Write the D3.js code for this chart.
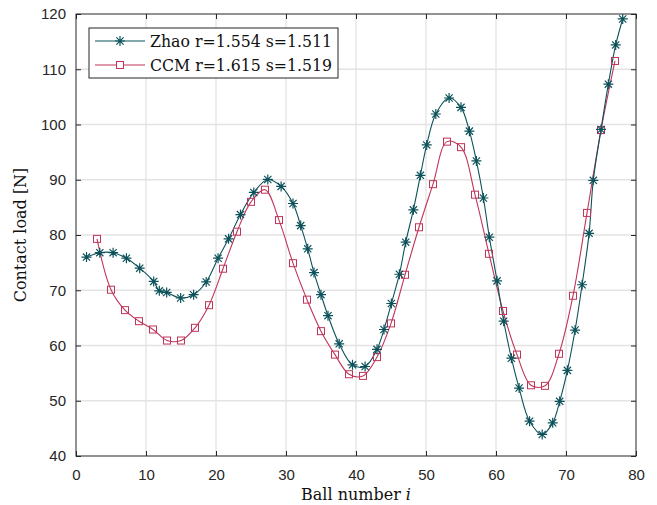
<!DOCTYPE html>
<html>
<head>
<meta charset="utf-8">
<script src="https://d3js.org/d3.v7.min.js"></script>
<style>
  body { margin: 0; background: #fff; }
  .tick text { font-family: "Liberation Sans", Arial, sans-serif; font-size: 15px; fill: #262626; }
</style>
</head>
<body>
<div id="chart"></div>
<script>
// Zhao model (stars)
let zhaoBall = [1.5, 3.4, 5.3, 7.2, 9.1, 11.1, 11.9, 12.95, 14.95, 16.8, 18.6, 20.3, 21.8, 23.5, 25.4, 27.4,
  29.3, 31.0, 32.1, 33.1, 34.0, 35.0, 36.0, 37.6, 39.5, 41.3, 43.0, 44.0, 45.05, 46.2, 47.1, 48.2, 49.2,
  50.1, 51.4, 53.3, 55.0, 56.2, 57.2, 58.2, 59.05, 60.15, 61.1, 62.2, 63.3, 64.8, 66.6, 68.1, 69.1, 70.2,
  71.3, 72.3, 73.3, 73.9, 75.0, 76.05, 77.1, 78.1];
let zhaoLoad = [76.0, 76.8, 76.8, 75.8, 74.0, 71.6, 69.9, 69.6, 68.6, 69.2, 71.5, 75.8, 79.3, 83.7, 87.7, 90.05,
  88.8, 85.7, 81.7, 77.5, 73.2, 69.2, 65.4, 60.3, 56.5, 56.2, 59.3, 62.9, 67.6, 72.9, 78.7, 84.55, 90.8,
  96.3, 101.9, 104.8, 103.1, 98.8, 93.4, 86.7, 79.6, 71.7, 64.4, 57.7, 52.3, 46.3, 43.9, 46.0, 49.9, 55.5,
  62.8, 71.0, 80.3, 89.9, 99.1, 107.3, 114.4, 119.1];

// CCM model (squares)
let ccmBall = [3, 5, 7, 9, 11, 13, 15, 17, 19, 21, 23, 25, 27, 29, 31, 33, 35, 37, 39, 41, 43, 45, 47,
  49, 51, 53, 55, 57, 59, 61, 63, 65, 67, 69, 71, 73, 75, 77];
let ccmLoad = [79.3, 70.1, 66.4, 64.4, 62.9, 60.9, 60.9, 63.2, 67.3, 73.9, 80.6, 86.0, 88.2, 82.7, 74.9, 68.3,
  62.6, 58.35, 54.8, 54.5, 57.9, 64.0, 72.8, 81.4, 89.2, 96.9, 95.9, 87.3, 76.6, 66.25, 58.35, 52.8, 52.7,
  58.5, 69.0, 84.0, 99.0, 111.5];

let xTicks = [0, 10, 20, 30, 40, 50, 60, 70, 80];
let yTicks = [40, 50, 60, 70, 80, 90, 100, 110, 120];
let legendLabels = ["Zhao r=1.554 s=1.511", "CCM r=1.615 s=1.519"];

let W = 657, H = 505;
let margin = { top: 14, right: 21, bottom: 49, left: 76 },
  width = W - margin.left - margin.right,
  height = H - margin.top - margin.bottom;

let zhaoColor = "#0d525b", ccmColor = "#c0355a";
let serif = "'DejaVu Serif', 'Liberation Serif', serif";

let svg = d3.select("#chart").append("svg")
  .attr("width", W).attr("height", H);
let g = svg.append("g").attr("transform", "translate(" + margin.left + "," + margin.top + ")");

let x = d3.scaleLinear().domain([0, 80]).range([0, width]);
let y = d3.scaleLinear().domain([40, 120]).range([height, 0]);

// grid
g.append("g").selectAll("line").data(xTicks.slice(1, -1)).enter().append("line")
  .attr("x1", d => x(d)).attr("x2", d => x(d)).attr("y1", 0).attr("y2", height)
  .attr("stroke", "#e3e3e3").attr("stroke-width", 1.3);
g.append("g").selectAll("line").data(yTicks.slice(1, -1)).enter().append("line")
  .attr("y1", d => y(d)).attr("y2", d => y(d)).attr("x1", 0).attr("x2", width)
  .attr("stroke", "#e3e3e3").attr("stroke-width", 1.3);

// axes (ticks pointing inward)
function styleAxis(sel) {
  sel.select(".domain").remove();
  sel.selectAll(".tick line").attr("stroke", "#262626").attr("stroke-width", 1);
}
g.append("g").attr("transform", "translate(0," + height + ")")
  .call(d3.axisBottom(x).tickValues(xTicks).tickSizeInner(-5).tickSizeOuter(0).tickPadding(13))
  .call(styleAxis);
g.append("g")
  .call(d3.axisTop(x).tickValues(xTicks).tickSizeInner(-5).tickSizeOuter(0).tickFormat(""))
  .call(styleAxis);
g.append("g")
  .call(d3.axisLeft(y).tickValues(yTicks).tickSizeInner(-5).tickSizeOuter(0).tickPadding(10))
  .call(styleAxis);
g.append("g").attr("transform", "translate(" + width + ",0)")
  .call(d3.axisRight(y).tickValues(yTicks).tickSizeInner(-5).tickSizeOuter(0).tickFormat(""))
  .call(styleAxis);

g.append("rect").attr("width", width).attr("height", height)
  .attr("fill", "none").attr("stroke", "#262626").attr("stroke-width", 1);

// series
let zhao = zhaoBall.map((b, i) => [b, zhaoLoad[i]]);
let ccm = ccmBall.map((b, i) => [b, ccmLoad[i]]);
let line = d3.line().x(d => x(d[0])).y(d => y(d[1])).curve(d3.curveCatmullRom.alpha(0.5));

g.append("path").datum(ccm).attr("d", line)
  .attr("fill", "none").attr("stroke", ccmColor).attr("stroke-width", 1.1);
g.append("path").datum(zhao).attr("d", line)
  .attr("fill", "none").attr("stroke", zhaoColor).attr("stroke-width", 1.1);

let starPath = "M-5,0H5M0,-5V5M-3.6,-3.6L3.6,3.6M-3.6,3.6L3.6,-3.6";

g.append("g").selectAll("rect").data(ccm).enter().append("rect")
  .attr("x", d => x(d[0]) - 3.5).attr("y", d => y(d[1]) - 3.5)
  .attr("width", 7).attr("height", 7)
  .attr("fill", "none").attr("stroke", ccmColor).attr("stroke-width", 1);

g.append("g").selectAll("path").data(zhao).enter().append("path")
  .attr("transform", d => "translate(" + x(d[0]) + "," + y(d[1]) + ")")
  .attr("d", starPath).attr("fill", "none").attr("stroke", zhaoColor).attr("stroke-width", 1.2);

// legend
let lg = svg.append("g").attr("transform", "translate(89,28)");
lg.append("rect").attr("width", 249).attr("height", 50)
  .attr("fill", "#fff").attr("stroke", "#262626").attr("stroke-width", 1);
[[zhaoColor, "star"], [ccmColor, "square"]].forEach((s, i) => {
  let cy = 13 + i * 24;
  lg.append("line").attr("x1", 6).attr("x2", 56).attr("y1", cy).attr("y2", cy)
    .attr("stroke", s[0]).attr("stroke-width", 1.1);
  if (s[1] === "star") {
    lg.append("path").attr("transform", "translate(31," + cy + ")").attr("d", starPath)
      .attr("fill", "none").attr("stroke", s[0]).attr("stroke-width", 1.2);
  } else {
    lg.append("rect").attr("x", 27.5).attr("y", cy - 3.5).attr("width", 7).attr("height", 7)
      .attr("fill", "#fff").attr("stroke", s[0]).attr("stroke-width", 1);
  }
  lg.append("text").attr("x", 61).attr("y", cy).attr("dy", "0.35em")
    .attr("font-family", serif).attr("font-size", "16px")
    .attr("textLength", 182).attr("lengthAdjust", "spacingAndGlyphs")
    .attr("fill", "#111").text(legendLabels[i]);
});

// axis labels
let xl = svg.append("text").attr("x", margin.left + width / 2).attr("y", 500)
  .attr("text-anchor", "middle").attr("font-family", serif)
  .attr("font-size", "16px").attr("fill", "#111");
xl.append("tspan").text("Ball number ");
xl.append("tspan").attr("font-style", "italic").text("i");

svg.append("text").attr("transform", "translate(26," + (margin.top + height / 2) + ") rotate(-90)")
  .attr("text-anchor", "middle").attr("font-family", serif)
  .attr("font-size", "16px").attr("fill", "#111").text("Contact load [N]");
</script>
</body>
</html>
